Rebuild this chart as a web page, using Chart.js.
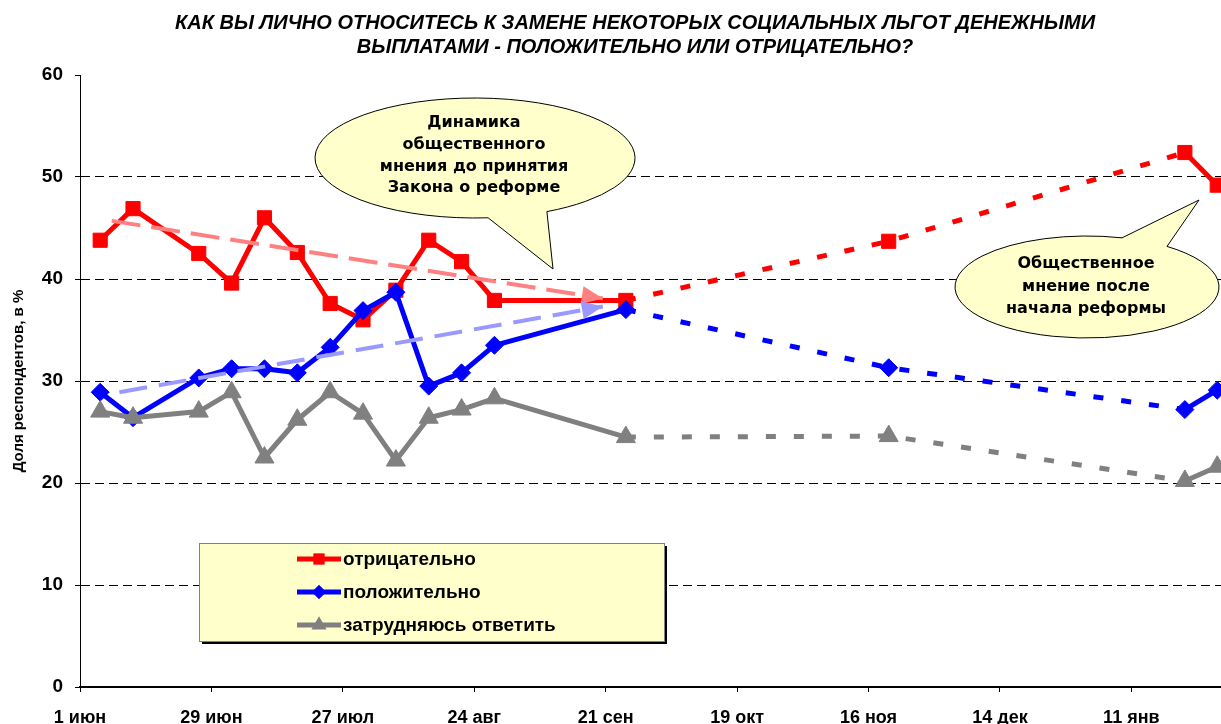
<!DOCTYPE html>
<html>
<head>
<meta charset="utf-8">
<script src="https://cdn.jsdelivr.net/npm/chart.js@4.4.0/dist/chart.umd.min.js"></script>
<style>
html,body{margin:0;padding:0;background:#fff;}
#wrap{width:1221px;height:724px;position:relative;}
</style>
</head>
<body>
<div id="wrap"><canvas id="c" width="1221" height="724"></canvas></div>
<script>
// ---------- DATA ----------
const titleLines = [
  'КАК ВЫ ЛИЧНО ОТНОСИТЕСЬ К ЗАМЕНЕ НЕКОТОРЫХ СОЦИАЛЬНЫХ ЛЬГОТ ДЕНЕЖНЫМИ',
  'ВЫПЛАТАМИ - ПОЛОЖИТЕЛЬНО ИЛИ ОТРИЦАТЕЛЬНО?'
];
const yAxisTitle = 'Доля респондентов, в %';
// x axis: days counted from 1 June
const tickDays   = [0, 28, 56, 84, 112, 140, 168, 196, 224];
const tickLabels = ['1 июн', '29 июн', '27 июл', '24 авг', '21 сен', '19 окт', '16 ноя', '14 дек', '11 янв'];
const yTicks = [0, 10, 20, 30, 40, 50, 60];
const xMaxDay = 243.1;

const seriesLabels = ['отрицательно', 'положительно', 'затрудняюсь ответить'];
const surveyDays = [4.3, 11.3, 25.3, 32.3, 39.3, 46.3, 53.3, 60.3, 67.3, 74.3, 81.3, 88.3, 116.3, 172.3, 235.4, 242.3];
const negative   = [43.8, 46.9, 42.5, 39.6, 46.0, 42.6, 37.6, 36.0, 38.9, 43.8, 41.7, 37.9, 37.9, 43.7, 52.4, 49.2];
const positive   = [28.9, 26.4, 30.3, 31.2, 31.2, 30.8, 33.3, 36.9, 38.7, 29.5, 30.8, 33.5, 37.0, 31.3, 27.2, 29.1];
const undecided  = [27.0, 26.4, 27.0, 28.9, 22.5, 26.2, 28.9, 26.8, 22.2, 26.4, 27.2, 28.3, 24.5, 24.6, 20.2, 21.6];
// segments (by starting point index) drawn dashed: after the law, between surveys
const dashedSegmentStarts = [12, 13];

// trend arrows "before the law"
const trendNegDays = [6.75, 111.4];
const trendNegVals = [45.7, 38.1];
const trendPosDays = [8.4, 111.4];
const trendPosVals = [28.9, 37.3];

const bubble1Lines = ['Динамика', 'общественного', 'мнения до принятия', 'Закона о реформе'];
const bubble2Lines = ['Общественное', 'мнение после', 'начала реформы'];

// ---------- HELPERS ----------
const FONT = "'Liberation Sans', Arial, sans-serif";
const BFONT = "'DejaVu Sans', Verdana, sans-serif";
const toPts = (xs, ys) => xs.map((x, i) => ({x: x, y: ys[i]}));

function series(label, values, color, style, radius, order) {
  return {
    label: label,
    data: toPts(surveyDays, values),
    borderColor: color,
    backgroundColor: color,
    borderWidth: 5,
    tension: 0,
    pointStyle: style,
    pointRadius: radius,
    pointBorderWidth: 1,
    pointBorderColor: color,
    pointBackgroundColor: color,
    borderJoinStyle: 'round',
    order: order,
    segment: {
      borderDash: c => dashedSegmentStarts.includes(c.p0DataIndex) ? [10, 18] : undefined,
      borderCapStyle: c => dashedSegmentStarts.includes(c.p0DataIndex) ? 'butt' : undefined
    },
    isMain: true
  };
}
function trend(label, xs, ys, color, dash, order) {
  return {
    label: label,
    data: toPts(xs, ys),
    borderColor: color,
    backgroundColor: color,
    borderWidth: 4,
    borderDash: dash,
    pointRadius: 0,
    tension: 0,
    order: order,
    isTrend: true
  };
}

function bubblePath(ctx, cx, cy, rx, ry, a0, a1, tip) {
  ctx.beginPath();
  ctx.ellipse(cx, cy, rx, ry, 0, a0, a1, false);
  ctx.lineTo(tip[0], tip[1]);
  ctx.closePath();
}
function deg(d) { return d * Math.PI / 180; }

const annotPlugin = {
  id: 'annot',
  afterDatasetsDraw(chart) {
    const ctx = chart.ctx;
    // arrowheads for trend lines
    chart.data.datasets.forEach((ds, i) => {
      if (!ds.isTrend) return;
      const pts = chart.getDatasetMeta(i).data;
      const a = pts[pts.length - 2], b = pts[pts.length - 1];
      const ang = Math.atan2(b.y - a.y, b.x - a.x);
      const L = 21, W = 9;
      ctx.save();
      ctx.fillStyle = ds.borderColor;
      ctx.beginPath();
      ctx.moveTo(b.x, b.y);
      ctx.lineTo(b.x - L * Math.cos(ang) + W * Math.sin(ang), b.y - L * Math.sin(ang) - W * Math.cos(ang));
      ctx.lineTo(b.x - L * Math.cos(ang) - W * Math.sin(ang), b.y - L * Math.sin(ang) + W * Math.cos(ang));
      ctx.closePath();
      ctx.fill();
      ctx.restore();
    });

    // callout bubbles
    ctx.save();
    ctx.fillStyle = '#FFFFCC';
    ctx.strokeStyle = '#000';
    ctx.lineWidth = 1;
    bubblePath(ctx, 475, 158, 160, 60, deg(85.3), deg(423.3), [553, 269]);
    ctx.fill(); ctx.stroke();
    bubblePath(ctx, 1087, 287, 132, 51, deg(-52.7), deg(285.4), [1199, 200]);
    ctx.fill(); ctx.stroke();
    ctx.fillStyle = '#000';
    ctx.font = "bold 16px " + BFONT;
    ctx.textAlign = 'center';
    ctx.textBaseline = 'middle';
    bubble1Lines.forEach((t, k) => ctx.fillText(t, 474, 123 + k * 21.7));
    bubble2Lines.forEach((t, k) => ctx.fillText(t, 1086, 264 + k * 22.5));
    ctx.restore();

    // legend box
    ctx.save();
    const bx = 199, by = 543, bw = 465, bh = 98;
    ctx.fillStyle = '#000';
    ctx.fillRect(bx + 3, by + 3, bw, bh);
    ctx.fillStyle = '#FFFFCC';
    ctx.fillRect(bx, by, bw, bh);
    ctx.strokeStyle = '#808080';
    ctx.lineWidth = 1;
    ctx.strokeRect(bx + 0.5, by + 0.5, bw, bh);
    const mains = chart.data.datasets.filter(d => d.isMain);
    mains.forEach((ds, k) => {
      const yy = 559 + k * 33;
      ctx.strokeStyle = ds.borderColor;
      ctx.lineWidth = 5;
      ctx.beginPath();
      ctx.moveTo(297, yy); ctx.lineTo(341, yy);
      ctx.stroke();
      ctx.fillStyle = ds.borderColor;
      Chart.helpers.drawPoint(ctx, {pointStyle: ds.pointStyle, radius: ds.pointRadius * 0.8, rotation: 0, borderWidth: 0}, 319, yy);
      ctx.fillStyle = '#000';
      ctx.font = "bold 19px " + FONT;
      ctx.textAlign = 'left';
      ctx.textBaseline = 'middle';
      ctx.fillText(ds.label, 343, yy + 1);
    });
    ctx.restore();
  },
  afterDraw(chart) {
    const ctx = chart.ctx;
    ctx.save();
    ctx.fillStyle = '#000';
    ctx.font = "italic bold 20px " + FONT;
    ctx.textAlign = 'center';
    ctx.textBaseline = 'middle';
    titleLines.forEach((t, k) => ctx.fillText(t, 635, 23 + k * 24));
    ctx.restore();
  }
};

// ---------- CHART ----------
new Chart(document.getElementById('c'), {
  type: 'line',
  data: {
    datasets: [
      series(seriesLabels[0], negative, '#FF0000', 'rect', 10, 4),
      series(seriesLabels[1], positive, '#0000FF', 'rectRot', 9, 3),
      series(seriesLabels[2], undecided, '#808080', 'triangle', 11, 2),
      trend('тренд: отрицательно', trendNegDays, trendNegVals, '#FF8080', [29, 11], 1),
      trend('тренд: положительно', trendPosDays, trendPosVals, '#9999FF', [28, 12], 0)
    ]
  },
  options: {
    responsive: false,
    animation: false,
    devicePixelRatio: 1,
    layout: {autoPadding: false, padding: {top: 75, right: 0, bottom: 0, left: 0}},
    plugins: {
      legend: {display: false},
      tooltip: {enabled: false},
      title: {display: false}
    },
    scales: {
      x: {
        type: 'linear',
        min: 0,
        max: xMaxDay,
        afterBuildTicks: s => { s.ticks = tickDays.map(v => ({value: v})); },
        afterFit: s => { s.height = 37; },
        ticks: {
          autoSkip: false,
          maxRotation: 0,
          padding: 15,
          color: '#000',
          font: {family: FONT, size: 18, weight: 'bold', lineHeight: 1.2},
          callback: (v, i) => tickLabels[i]
        },
        grid: {drawOnChartArea: false, drawTicks: true, tickLength: 5, tickColor: '#000', color: '#000'},
        border: {color: '#000', width: 2}
      },
      y: {
        min: 0,
        max: 60,
        afterBuildTicks: s => { s.ticks = yTicks.map(v => ({value: v})); },
        afterFit: s => { s.width = 80; },
        ticks: {
          padding: 12,
          color: '#000',
          font: {family: FONT, size: 19, weight: 'bold'}
        },
        grid: {
          drawTicks: true,
          tickLength: 5,
          tickColor: '#000',
          lineWidth: 1,
          color: c => (c.tick && c.tick.value > 0 && c.tick.value < 60) ? '#000' : 'rgba(0,0,0,0)'
        },
        border: {color: '#000', width: 1, dash: [9, 5]},
        title: {
          display: true,
          text: yAxisTitle,
          color: '#000',
          font: {family: FONT, size: 15, weight: 'bold', lineHeight: 1.2},
          padding: {top: 10, bottom: 0}
        }
      }
    }
  },
  plugins: [annotPlugin]
});
</script>
</body>
</html>
